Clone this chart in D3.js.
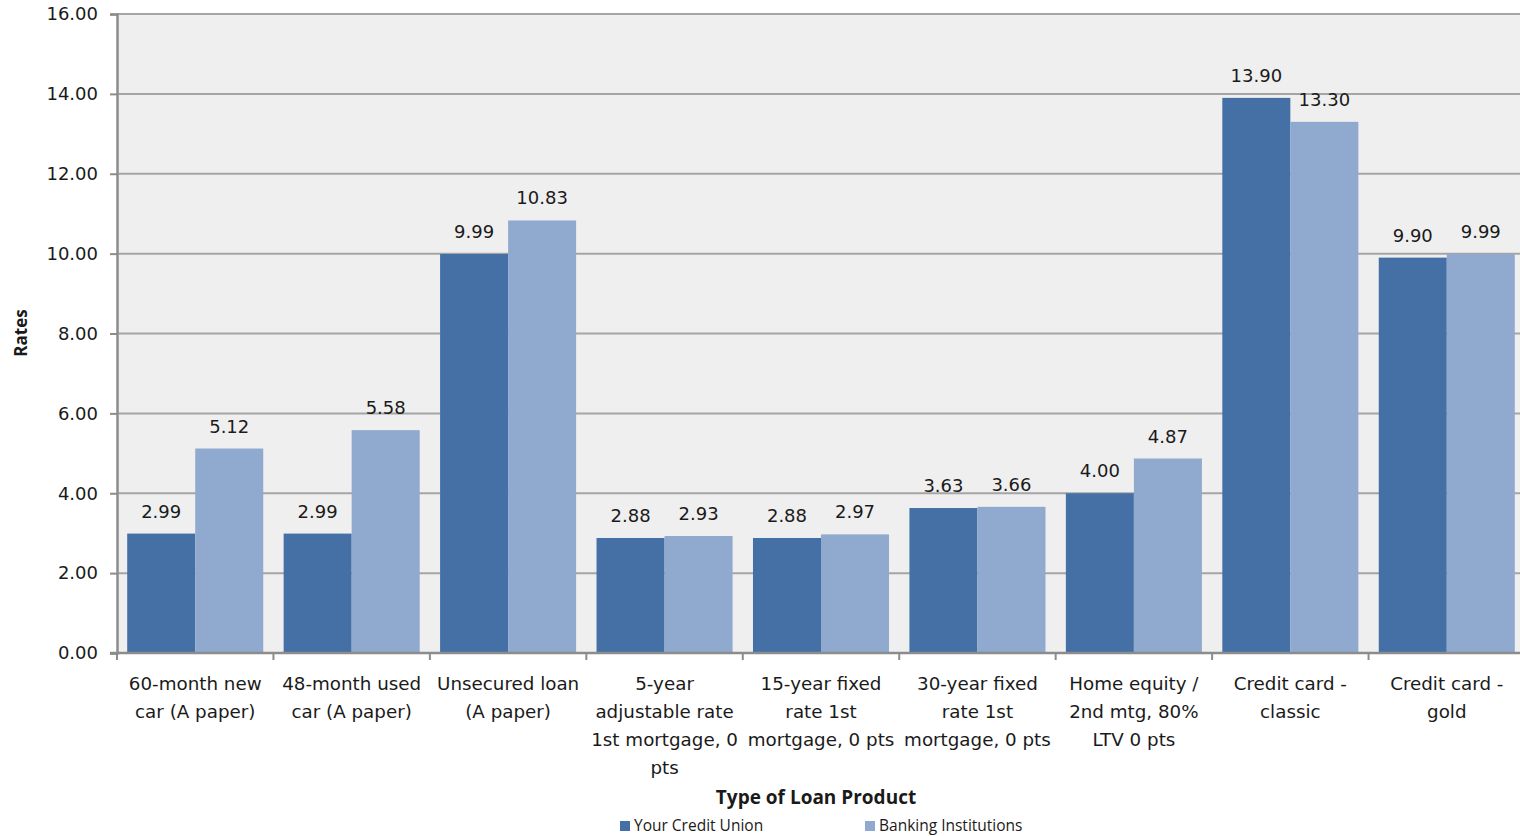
<!DOCTYPE html>
<html>
<head>
<meta charset="utf-8">
<script src="https://cdn.jsdelivr.net/npm/d3@7"></script>
<style>
  html, body { margin: 0; padding: 0; background: #ffffff; }
  svg { display: block; }
</style>
</head>
<body>
<svg id="chart" width="1520" height="836"></svg>
<script>
// Loan rate comparison: credit union vs. banking institutions
const categories = [
  "60-month new car (A paper)",
  "48-month used car (A paper)",
  "Unsecured loan (A paper)",
  "5-year adjustable rate 1st mortgage, 0 pts",
  "15-year fixed rate 1st mortgage, 0 pts",
  "30-year fixed rate 1st mortgage, 0 pts",
  "Home equity / 2nd mtg, 80% LTV 0 pts",
  "Credit card - classic",
  "Credit card - gold"
];
const categoryLines = [
  ["60-month new", "car (A paper)"],
  ["48-month used", "car (A paper)"],
  ["Unsecured loan", "(A paper)"],
  ["5-year", "adjustable rate", "1st mortgage, 0", "pts"],
  ["15-year fixed", "rate 1st", "mortgage, 0 pts"],
  ["30-year fixed", "rate 1st", "mortgage, 0 pts"],
  ["Home equity /", "2nd mtg, 80%", "LTV 0 pts"],
  ["Credit card -", "classic"],
  ["Credit card -", "gold"]
];
const seriesNames = ["Your Credit Union", "Banking Institutions"];
const creditUnion = [2.99, 2.99, 9.99, 2.88, 2.88, 3.63, 4.00, 13.90, 9.90];
const banking = [5.12, 5.58, 10.83, 2.93, 2.97, 3.66, 4.87, 13.30, 9.99];
const yTicks = [0, 2, 4, 6, 8, 10, 12, 14, 16];
const colors = ["#4470a5", "#90a9cf"];

const FONT = "'DejaVu Sans', Verdana, sans-serif";
const svg = d3.select("#chart");
const plot = { left: 117, top: 14, right: 1525, bottom: 653 };

const x = d3.scaleBand().domain(categories).range([plot.left, plot.right]).paddingInner(0).paddingOuter(0);
const xs = d3.scaleBand().domain(seriesNames).range([0, x.bandwidth()]).paddingOuter(0.15).paddingInner(0);
const y = d3.scaleLinear().domain([0, 16]).range([plot.bottom, plot.top]);

// plot background
svg.append("rect")
  .attr("x", plot.left).attr("y", plot.top)
  .attr("width", plot.right - plot.left).attr("height", plot.bottom - plot.top)
  .attr("fill", "#efefef");

// horizontal gridlines
svg.append("g").selectAll("line").data(yTicks.filter(d => d > 0)).join("line")
  .attr("x1", plot.left).attr("x2", plot.right)
  .attr("y1", d => y(d)).attr("y2", d => y(d))
  .attr("stroke", "#a5a5a5").attr("stroke-width", 2);

// bars
const rows = categories.map((c, i) => ({ c, vals: [creditUnion[i], banking[i]] }));
const groups = svg.append("g").selectAll("g").data(rows).join("g")
  .attr("transform", d => `translate(${x(d.c)},0)`);
groups.selectAll("rect").data(d => d.vals.map((v, k) => ({ v, k }))).join("rect")
  .attr("x", d => xs(seriesNames[d.k]))
  .attr("width", xs.bandwidth())
  .attr("y", d => y(d.v))
  .attr("height", d => y(0) - y(d.v))
  .attr("fill", d => colors[d.k]);
groups.selectAll("text").data(d => d.vals.map((v, k) => ({ v, k }))).join("text")
  .attr("x", d => xs(seriesNames[d.k]) + xs.bandwidth() / 2)
  .attr("y", d => y(d.v) - 16)
  .attr("text-anchor", "middle")
  .attr("font-family", FONT)
  .attr("font-size", 18)
  .attr("fill", "#1a1a1a")
  .text(d => d.v.toFixed(2));

// y axis
const yAxis = d3.axisLeft(y).tickValues(yTicks).tickFormat(d => d.toFixed(2)).tickSize(7).tickPadding(12);
const gy = svg.append("g").attr("transform", `translate(${plot.left},0)`).call(yAxis);
gy.select(".domain").attr("stroke", "#8c8c8c").attr("stroke-width", 2.5);
gy.selectAll(".tick line").attr("stroke", "#8c8c8c").attr("stroke-width", 2);
gy.selectAll(".tick text")
  .attr("font-family", FONT)
  .attr("font-size", 18).attr("fill", "#1a1a1a");

// x axis
const gx = svg.append("g").attr("transform", `translate(0,${plot.bottom})`);
gx.append("line").attr("x1", plot.left - 7).attr("x2", plot.right)
  .attr("stroke", "#8c8c8c").attr("stroke-width", 2.5);
gx.selectAll("line.tk").data(d3.range(categories.length + 1)).join("line")
  .attr("class", "tk")
  .attr("x1", i => plot.left + i * x.step()).attr("x2", i => plot.left + i * x.step())
  .attr("y1", 0).attr("y2", 7)
  .attr("stroke", "#8c8c8c").attr("stroke-width", 2);
const labels = gx.selectAll("text.cat").data(categories).join("text")
  .attr("class", "cat")
  .attr("text-anchor", "middle")
  .attr("font-family", FONT)
  .attr("font-size", 18.3).attr("fill", "#1a1a1a");
labels.each(function (c, i) {
  d3.select(this).selectAll("tspan").data(categoryLines[i]).join("tspan")
    .attr("x", x(c) + x.bandwidth() / 2)
    .attr("y", (d, j) => 37 + j * 28)
    .text(d => d);
});

// axis titles
svg.append("text")
  .attr("transform", "translate(27,333) rotate(-90)")
  .attr("text-anchor", "middle")
  .attr("font-family", "'Open Sans', sans-serif").attr("font-weight", "bold")
  .attr("font-size", 17).attr("fill", "#1a1a1a")
  .text("Rates");
svg.append("text")
  .attr("x", 816).attr("y", 804)
  .attr("text-anchor", "middle")
  .attr("font-family", "'Open Sans', sans-serif").attr("font-weight", "bold")
  .attr("font-size", 19).attr("fill", "#1a1a1a")
  .text("Type of Loan Product");

// legend
const legendX = [620, 865];
const lg = svg.append("g").selectAll("g").data(seriesNames).join("g")
  .attr("transform", (d, i) => `translate(${legendX[i]},821)`);
lg.append("rect").attr("width", 10).attr("height", 10).attr("fill", (d, i) => colors[i]);
lg.append("text").attr("x", 14).attr("y", 10)
  .attr("font-family", "'Open Sans', sans-serif").attr("font-size", 15.5)
  .attr("fill", "#1a1a1a")
  .text(d => d);
</script>
</body>
</html>
